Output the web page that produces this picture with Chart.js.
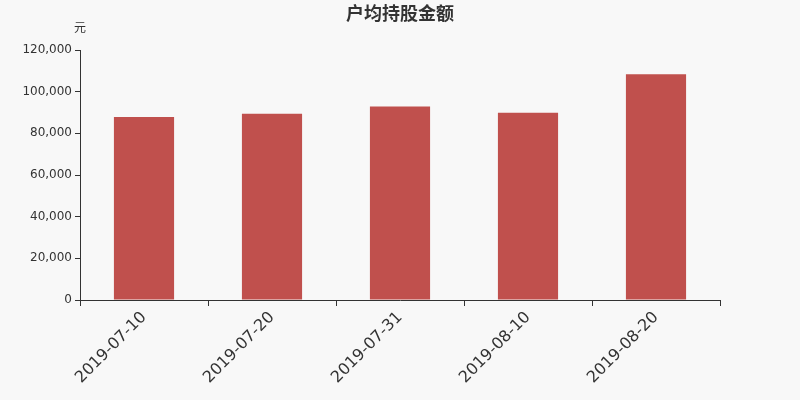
<!DOCTYPE html>
<html>
<head>
<meta charset="utf-8">
<script src="https://cdn.jsdelivr.net/npm/chart.js@4"></script>
<style>
  html, body { margin: 0; padding: 0; background: #f8f8f8; }
  #wrap { width: 800px; height: 400px; }
</style>
</head>
<body>
<div id="wrap"><canvas id="holdingChart"></canvas></div>
<script>
// Chart data
const dates = ['2019-07-10', '2019-07-20', '2019-07-31', '2019-08-10', '2019-08-20'];
const avgHolding = [87900, 89350, 92900, 89850, 108400];
const chartTitle = '户均持股金额';
const unitLabel = '元';

const fontFamily = "'DejaVu Sans', 'Noto Sans CJK SC', sans-serif";

// Draws the title and the unit label above the y axis
const headerPlugin = {
    id: 'header',
    afterDraw(chart) {
        const ctx = chart.ctx;
        ctx.save();
        ctx.fillStyle = '#333';
        ctx.textAlign = 'center';
        ctx.textBaseline = 'middle';
        ctx.font = "bold 18px 'Noto Sans CJK SC', sans-serif";
        ctx.fillText(chartTitle, 400, 13);
        ctx.font = "12px " + fontFamily;
        ctx.fillText(unitLabel, chart.chartArea.left, 29);
        ctx.restore();
    }
};

const ctx = document.getElementById('holdingChart').getContext('2d');
new Chart(ctx, {
    type: 'bar',
    data: {
        labels: dates,
        datasets: [{
            data: avgHolding,
            backgroundColor: '#c0504d',
            categoryPercentage: 1,
            barPercentage: 0.47
        }]
    },
    options: {
        responsive: true,
        maintainAspectRatio: false,
        animation: false,
        layout: { padding: { top: 50, right: 80, left: 0, bottom: 0 } },
        plugins: {
            legend: { display: false },
            title: { display: false },
            tooltip: { enabled: false }
        },
        scales: {
            x: {
                grid: { drawOnChartArea: false, color: '#333', tickLength: 6, offset: true },
                border: { color: '#333', width: 1 },
                ticks: {
                    color: '#333',
                    font: { family: fontFamily, size: 16 },
                    minRotation: 45,
                    maxRotation: 45,
                    padding: 2
                },
                afterFit(scale) { scale.height = 100; }
            },
            y: {
                min: 0,
                max: 120000,
                grid: { drawOnChartArea: false, color: '#333', tickLength: 5 },
                border: { color: '#333', width: 1 },
                ticks: {
                    stepSize: 20000,
                    color: '#333',
                    font: { family: fontFamily, size: 12 },
                    padding: 3,
                    callback: (v) => v.toLocaleString('en-US')
                },
                afterFit(scale) { scale.width = 80; }
            }
        }
    },
    plugins: [headerPlugin]
});
</script>
</body>
</html>
